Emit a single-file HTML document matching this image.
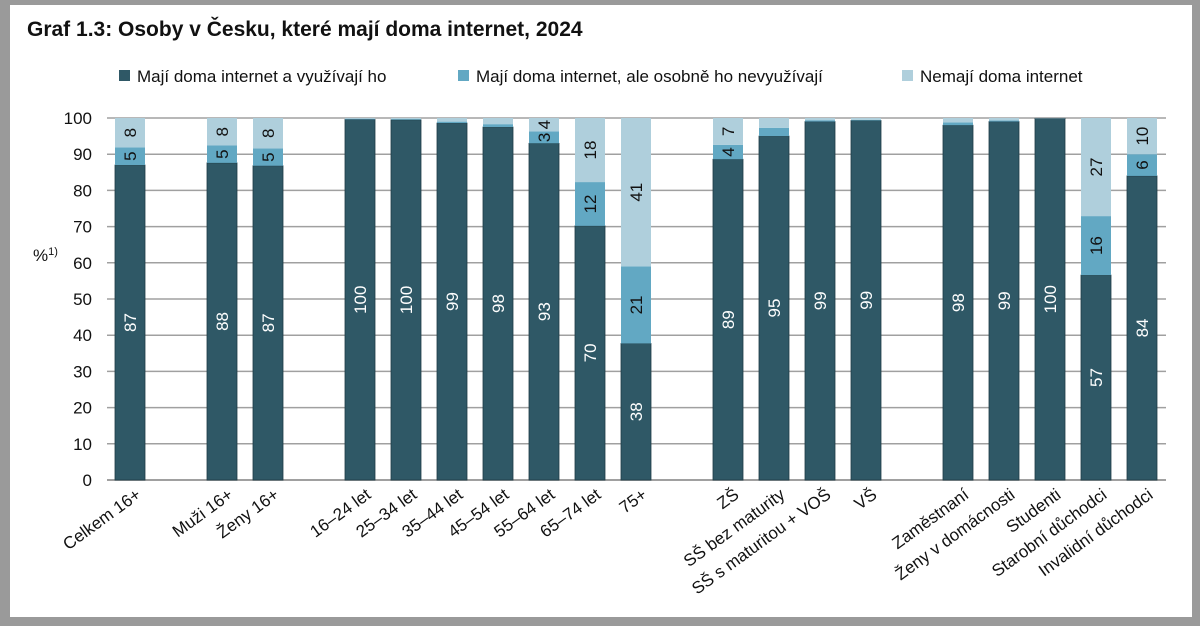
<!DOCTYPE html>
<html><head><meta charset="utf-8"><style>
body{margin:0;background:#9a9a9a;width:1200px;height:626px;overflow:hidden;font-family:"Liberation Sans",Arial,sans-serif}
#panel{position:absolute;left:10px;top:5px;width:1182px;height:612px;background:#fff}
svg{position:absolute;left:0;top:0}
</style></head><body>
<div id="panel"></div>
<svg id="chart" width="1200" height="626">
<text x="27" y="36" font-size="21" font-weight="bold" fill="#111">Graf 1.3: Osoby v Česku, které mají doma internet, 2024</text>
<g font-size="17" fill="#111">
<g><rect x="119" y="70" width="11" height="11" fill="#2f5866"/><text x="137" y="82">Mají doma internet a využívají ho</text></g>
<g><rect x="458" y="70" width="11" height="11" fill="#62a8c3"/><text x="476" y="82">Mají doma internet, ale osobně ho nevyužívají</text></g>
<g><rect x="902" y="70" width="11" height="11" fill="#afcfdc"/><text x="920" y="82">Nemají doma internet</text></g>
</g>
<text x="33" y="261" font-size="17" fill="#111">%<tspan font-size="11" dy="-6">1)</tspan></text>
<g id="grid"></g><g id="bars"></g><g id="xl"></g>
</svg>
<script>
const categories=["Celkem 16+",null,"Muži 16+","Ženy 16+",null,"16–24 let","25–34 let","35–44 let","45–54 let","55–64 let","65–74 let","75+",null,"ZŠ","SŠ bez maturity","SŠ s maturitou + VOŠ","VŠ",null,"Zaměstnaní","Ženy v domácnosti","Studenti","Starobní důchodci","Invalidní důchodci"];
const usesVals=[87,null,87.6,86.8,null,99.6,99.5,98.6,97.5,93,70.2,37.7,null,88.6,95,99,99.3,null,98,99,99.9,56.6,84];
const notUsingVals=[4.9,null,4.8,4.8,null,0.2,0.2,0.4,0.8,3.3,12.1,21.3,null,4,2.3,0.4,0.2,null,0.8,0.3,0,16.3,6];
const noInternetVals=[8.1,null,7.6,8.4,null,0.2,0.3,1,1.7,3.7,17.7,41,null,7.4,2.7,0.6,0.5,null,1.2,0.7,0.1,27.1,10];
const yTicks=[0,10,20,30,40,50,60,70,80,90,100];
const NS="http://www.w3.org/2000/svg";
const y0=480,y1=118,x0=107,step=46,bw=30;
const yS=v=>y0-(y0-y1)*v/100;
const xC=i=>x0+step/2+step*i;
function mk(t,a,p){const e=document.createElementNS(NS,t);for(const k in a)e.setAttribute(k,a[k]);p.appendChild(e);return e;}
const grid=document.getElementById('grid');
yTicks.forEach(t=>{
 const l=mk('line',{x1:x0,x2:1166,y1:yS(t),y2:yS(t),stroke:'#a0a0a0','stroke-width':t===0?2:1.5},grid);
 
 
 const tx=mk('text',{x:92,y:yS(t)+6,'text-anchor':'end','font-size':17,fill:'#111'},grid);
 tx.textContent=t;
 
 
});
const bars=document.getElementById('bars');
const series=[[usesVals,'#2f5866','#fff','uses'],[notUsingVals,'#62a8c3','#111','not-using'],[noInternetVals,'#afcfdc','#111','no-internet']];
categories.forEach((c,i)=>{
 if(c===null)return;
 let base=0;
 series.forEach(([arr,col,tc,nm])=>{
  const v=arr[i];if(!v){return;}
  const top=Math.min(base+v,100);
  const r=mk('rect',{x:xC(i)-bw/2,y:yS(top),width:bw,height:yS(base)-yS(top),fill:col,stroke:nm==='uses'?'#1e3c46':'none','stroke-width':0.8},bars);
  
  
  if(v>=2.9){
   const cy=(yS(base)+yS(top))/2;
   const t=mk('text',{x:0,y:0,'text-anchor':'middle','font-size':17,fill:tc,transform:`translate(${xC(i)+6},${cy}) rotate(-90)`},bars);
   t.textContent=Math.round(v);
   
   
  }
  base=top;
 });
 const xl=mk('text',{x:0,y:0,'text-anchor':'end','font-size':17,fill:'#111',transform:`translate(${xC(i)+12},${497}) rotate(-36)`},document.getElementById('xl'));
 xl.textContent=c;
 
 
});
</script>
</body></html>
